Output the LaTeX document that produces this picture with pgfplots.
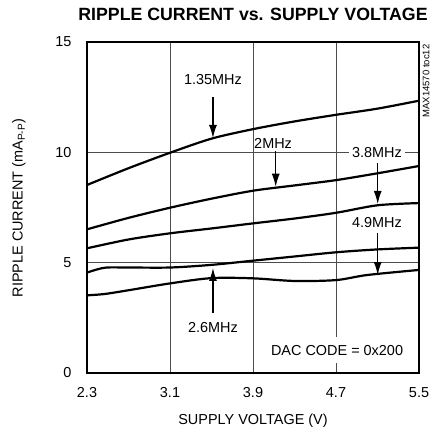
\documentclass[border=0pt]{standalone}
\usepackage{fontspec}
\setmainfont{Liberation Sans}
\usepackage{pgfplots}
\pgfplotsset{compat=1.18}
\usetikzlibrary{arrows.meta}

\begin{document}
\begin{tikzpicture}[x=1bp,y=1bp]
\path[use as bounding box] (0,0) rectangle (433,436);

\node[font=\bfseries\fontsize{17.8}{20}\selectfont] at (253,422) {RIPPLE CURRENT vs. SUPPLY VOLTAGE};
\node[rotate=90,font=\fontsize{14.5}{17}\selectfont] at (19,228) {RIPPLE CURRENT (mA\textsubscript{P-P})};
\node[font=\fontsize{14.5}{17}\selectfont] at (253,15) {SUPPLY VOLTAGE (V)};
\node[rotate=90,font=\fontsize{9.5}{11}\selectfont] at (426,355) {MAX14570 toc12};

\tikzset{curve/.style={black, line width=2.2bp, mark=none, smooth, tension=0.5},
         lab/.style={font=\fontsize{14.5}{17}\selectfont, inner sep=1.5bp},
         arr/.style={line width=1.3bp, -{Latex[length=13bp,width=8bp]}}}

\begin{axis}[
  at={(87bp,63bp)}, anchor=south west,
  scale only axis, width=332bp, height=331bp,
  xmin=2.3, xmax=5.5, ymin=0, ymax=15,
  xtick={2.3,3.1,3.9,4.7,5.5}, xticklabels={2.3,3.1,3.9,4.7,5.5},
  ytick={0,5,10,15}, yticklabels={0,5,10,15},
  major tick length=0,
  grid=major,
  grid style={line width=0.8bp, black!70},
  axis line style={line width=2.6bp},
  tick label style={font=\fontsize{14.5}{17}\selectfont},
  yticklabel style={xshift=-12bp},
  xticklabel style={yshift=-11bp},
  clip=false,
]
\addplot[curve] coordinates {(2.3,8.52)(2.7,9.28)(3.1,9.98)(3.5,10.62)(3.9,11.05)(4.3,11.4)(4.7,11.7)(5.1,11.98)(5.5,12.34)};
\addplot[curve] coordinates {(2.3,6.51)(2.7,7.03)(3.1,7.49)(3.5,7.9)(3.9,8.26)(4.3,8.5)(4.7,8.74)(5.1,9.05)(5.5,9.38)};
\addplot[curve] coordinates {(2.3,5.65)(2.7,6.05)(3.1,6.33)(3.5,6.55)(3.9,6.78)(4.3,7.0)(4.7,7.26)(5.1,7.6)(5.5,7.70)};
\addplot[curve] coordinates {(2.3,4.55)(2.47,4.77)(2.7,4.78)(3.1,4.78)(3.5,4.9)(3.9,5.09)(4.3,5.28)(4.7,5.47)(5.1,5.6)(5.5,5.68)};
\addplot[curve] coordinates {(2.3,3.52)(2.47,3.58)(2.7,3.75)(3.1,4.06)(3.5,4.3)(3.9,4.29)(4.3,4.17)(4.7,4.21)(5.0,4.44)(5.5,4.67)};

\node[lab] at (axis cs:3.514,13.32) {1.35MHz};
\draw[arr] (axis cs:3.514,12.5) -- (axis cs:3.514,10.65);
\node[lab, anchor=west, inner sep=0pt] at (axis cs:3.91,10.42) {2MHz};
\draw[arr] (axis cs:4.119,10.07) -- (axis cs:4.119,8.44);
\node[lab, fill=white, inner sep=3bp] at (axis cs:5.095,9.99) {3.8MHz};
\draw[arr] (axis cs:5.102,9.52) -- (axis cs:5.102,7.66);
\node[lab] at (axis cs:5.095,6.84) {4.9MHz};
\draw[arr] (axis cs:5.102,6.34) -- (axis cs:5.102,4.44);
\node[lab] at (axis cs:3.514,2.08) {2.6MHz};
\draw[arr] (axis cs:3.514,2.72) -- (axis cs:3.514,4.76);
\node[lab, fill=white, inner xsep=4bp, inner ysep=8bp] at (axis cs:4.71,1.04) {DAC CODE = 0x200};
\end{axis}
\end{tikzpicture}
\end{document}
